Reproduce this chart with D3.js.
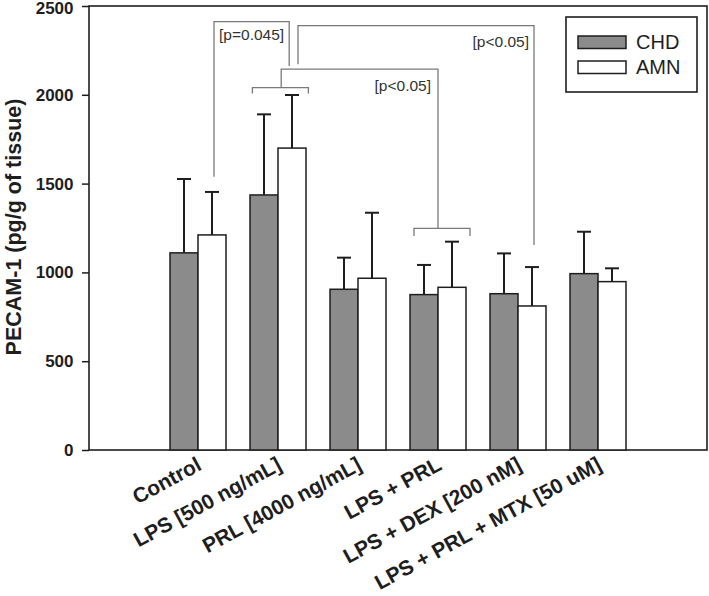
<!DOCTYPE html>
<html><head><meta charset="utf-8">
<script src="https://cdn.jsdelivr.net/npm/d3@7"></script>
<style>
html,body{margin:0;padding:0;background:#fff;}
svg{display:block;font-family:"Liberation Sans",Arial,Helvetica,sans-serif;}
</style></head>
<body><svg id="c" width="709" height="596"></svg>
<script>
// ---- data ----
const categories = ["Control","LPS [500 ng/mL]","PRL [4000 ng/mL]","LPS + PRL","LPS + DEX [200 nM]","LPS + PRL + MTX [50 uM]"];
const seriesNames = ["CHD","AMN"];
const chdMean = [1110, 1436, 905, 875, 880, 993];
const chdErr  = [416, 454, 178, 167, 227, 236];
const amnMean = [1211, 1700, 967, 916, 811, 948];
const amnErr  = [242, 299, 369, 257, 219, 75];
const yTicks = [0, 500, 1000, 1500, 2000, 2500];
const yLabel = "PECAM-1 (pg/g of tissue)";
const sigLabels = ["[p=0.045]","[p<0.05]","[p<0.05]"];

// ---- layout ----
const svg = d3.select("#c");
const mLeft = 89, mRight = 707, mTop = 6, mBottom = 450;
const y = d3.scaleLinear().domain([0, 2500]).range([mBottom, mTop]);
const x0 = d3.scaleBand().domain(categories).range([158, 638]).padding(0);
const x1 = d3.scaleBand().domain(seriesNames).range([12, 68]).padding(0);
const fills = {CHD: "#8b8b8b", AMN: "#ffffff"};
const ink = "#1e1e1e", grey = "#7a7a7a";

// frame
svg.append("rect").attr("x", mLeft).attr("y", mTop).attr("width", mRight - mLeft).attr("height", mBottom - mTop)
  .attr("fill", "none").attr("stroke", ink).attr("stroke-width", 1.6);

// y axis
const ya = svg.append("g").attr("transform", `translate(${mLeft},0)`)
  .call(d3.axisLeft(y).tickValues(yTicks).tickFormat(d3.format("d")).tickSize(7).tickSizeOuter(0).tickPadding(8.5));
ya.select(".domain").remove();
ya.selectAll("line").attr("stroke", ink).attr("stroke-width", 1.5);
ya.selectAll("text").attr("font-size", 17).attr("font-weight", "bold").attr("fill", ink)
  .attr("font-family", "Liberation Sans, Arial, sans-serif")
  .attr("y", d => d === 2500 ? 1.8 : 0);

svg.append("text").attr("transform", `translate(21,227) rotate(-90)`)
  .attr("text-anchor", "middle").attr("font-size", 21.5).attr("font-weight", "bold").attr("fill", ink)
  .text(yLabel);

// x axis labels
const xa = svg.append("g").attr("transform", `translate(0,${mBottom})`)
  .call(d3.axisBottom(x0).tickSize(0).tickPadding(0));
xa.select(".domain").remove();
xa.selectAll("text").attr("font-size", 21).attr("font-weight", "bold").attr("fill", ink)
  .attr("font-family", "Liberation Sans, Arial, sans-serif")
  .attr("text-anchor", "end").attr("dy", 0).attr("y", 0)
  .attr("transform", "translate(5,19) rotate(-28.5)");

// bars
const rows = categories.map((c, i) => ({
  cat: c,
  vals: [
    {s: "CHD", v: chdMean[i], e: chdErr[i]},
    {s: "AMN", v: amnMean[i], e: amnErr[i]}
  ]
}));
const g = svg.selectAll(".grp").data(rows).join("g").attr("transform", d => `translate(${x0(d.cat)},0)`);
// error bars (behind)
g.selectAll(".eb").data(d => d.vals).join("g").each(function(d) {
  const cx = x1(d.s) + x1.bandwidth() / 2;
  const sel = d3.select(this);
  sel.append("line").attr("x1", cx).attr("x2", cx).attr("y1", y(d.v)).attr("y2", y(d.v + d.e))
    .attr("stroke", ink).attr("stroke-width", 2);
  sel.append("line").attr("x1", cx - 7).attr("x2", cx + 7).attr("y1", y(d.v + d.e)).attr("y2", y(d.v + d.e))
    .attr("stroke", ink).attr("stroke-width", 2);
});
g.selectAll(".bar").data(d => d.vals).join("rect")
  .attr("x", d => x1(d.s)).attr("width", x1.bandwidth())
  .attr("y", d => y(d.v)).attr("height", d => y(0) - y(d.v))
  .attr("fill", d => fills[d.s]).attr("stroke", ink).attr("stroke-width", 1.5);

// significance brackets (positions in band fractions and data values)
const bx = (ci, f) => x0(categories[ci]) + f * x0.bandwidth();
const ann = svg.append("g").attr("fill", "none").attr("stroke", grey).attr("stroke-width", 1.3);
const path = pts => ann.append("path").attr("d", d3.line()(pts.map(p => [bx(p[0], p[1]), y(p[2])])));
// LPS group bracket
path([[1, 0.18, 2008], [1, 0.18, 2040], [1, 0.88, 2040], [1, 0.88, 2008]]);
// LPS+PRL group bracket
path([[3, 0.20, 1205], [3, 0.20, 1248], [3, 0.90, 1248], [3, 0.90, 1205]]);
// Control vs LPS
path([[0, 0.70, 1539], [0, 0.70, 2412], [1, 0.64, 2412], [1, 0.64, 2162]]);
// LPS vs LPS+PRL
path([[1, 0.54, 2040], [1, 0.54, 2145], [3, 0.50, 2145], [3, 0.50, 1248]]);
// LPS vs LPS+DEX
path([[1, 0.75, 2172], [1, 0.75, 2389], [4, 0.70, 2389], [4, 0.70, 1154]]);

const tx = svg.append("g").attr("font-size", 15.5).attr("fill", "#333");
tx.append("text").attr("x", (bx(0, 0.70) + bx(1, 0.64)) / 2).attr("y", y(2412) + 18.5)
  .attr("text-anchor", "middle").text(sigLabels[0]);
tx.append("text").attr("x", bx(4, 0.70) - 5).attr("y", y(2389) + 21.5)
  .attr("text-anchor", "end").text(sigLabels[1]);
tx.append("text").attr("x", bx(3, 0.50) - 7).attr("y", y(2145) + 21.5)
  .attr("text-anchor", "end").text(sigLabels[2]);

// legend
const lg = svg.append("g").attr("transform", "translate(566,17)");
lg.append("rect").attr("width", 131).attr("height", 75).attr("fill", "#fff").attr("stroke", ink).attr("stroke-width", 1.6);
seriesNames.forEach((s, i) => {
  lg.append("rect").attr("x", 12).attr("y", 19 + i * 25).attr("width", 48).attr("height", 12.5)
    .attr("fill", fills[s]).attr("stroke", ink).attr("stroke-width", 1.5);
  lg.append("text").attr("x", 70).attr("y", 32 + i * 25).attr("font-size", 20).attr("fill", ink).text(s);
});
</script></body></html>
